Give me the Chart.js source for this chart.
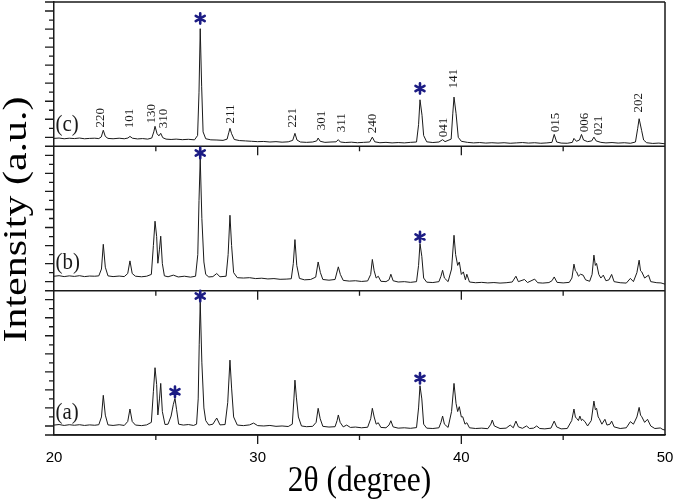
<!DOCTYPE html>
<html>
<head>
<meta charset="utf-8">
<script src="https://cdn.jsdelivr.net/npm/chart.js@4.4.1/dist/chart.umd.min.js"></script>
<style>
  html, body { margin: 0; padding: 0; background: #fff; }
</style>
</head>
<body>
<canvas id="xrd" width="675" height="501"></canvas>
<script>
// --- DATA (2θ in degrees, intensity in arbitrary units) ---
const patternA = [
  [20.0,55],[20.25,58],[20.5,53],[20.75,57],[21.0,54],[21.25,57],[21.5,53],[21.75,56],[22.0,54],[22.2,57],
  [22.33,100],[22.42,220],[22.52,110],[22.65,56],[22.9,53],[23.2,57],[23.45,53],[23.62,75],[23.73,144],[23.84,75],
  [24.0,55],[24.3,52],[24.55,56],[24.78,70],[24.88,240],[24.96,373],[25.04,280],[25.1,111],[25.18,200],[25.24,286],
  [25.32,130],[25.45,58],[25.6,60],[25.75,105],[25.86,170],[25.94,203],[26.02,140],[26.12,60],[26.35,55],[26.6,58],
  [26.85,53],[27.0,60],[27.08,200],[27.13,500],[27.18,738],[27.26,400],[27.36,150],[27.45,80],[27.6,55],[27.8,60],
  [27.99,94],[28.15,56],[28.4,58],[28.53,180],[28.64,415],[28.72,260],[28.82,100],[29.0,55],[29.3,52],[29.6,56],
  [29.8,66],[30.0,52],[30.3,50],[30.6,53],[30.9,48],[31.2,50],[31.5,47],[31.7,60],[31.78,200],[31.83,304],
  [31.9,210],[32.0,100],[32.15,50],[32.4,46],[32.7,48],[32.87,70],[32.97,148],[33.07,90],[33.2,48],[33.5,44],
  [33.8,46],[33.9,80],[33.96,111],[34.05,70],[34.2,45],[34.37,55],[34.55,42],[34.8,44],[35.1,40],[35.4,43],
  [35.55,90],[35.63,148],[35.72,100],[35.82,60],[35.92,68],[36.05,42],[36.3,40],[36.45,55],[36.54,79],[36.65,45],
  [36.9,38],[37.2,40],[37.5,37],[37.8,41],[37.9,150],[37.97,273],[38.06,200],[38.15,60],[38.3,38],[38.6,36],
  [38.9,40],[39.0,70],[39.08,105],[39.17,60],[39.35,42],[39.52,130],[39.64,286],[39.74,175],[39.82,130],[39.9,157],
  [40.0,100],[40.07,101],[40.18,60],[40.27,68],[40.4,40],[40.7,36],[41.0,38],[41.3,35],[41.45,60],[41.52,83],
  [41.62,50],[41.9,36],[42.2,38],[42.4,55],[42.55,40],[42.68,77],[42.8,45],[43.0,37],[43.2,50],[43.35,36],
  [43.55,38],[43.7,50],[43.85,36],[44.1,34],[44.4,38],[44.56,77],[44.68,45],[44.9,34],[45.2,36],[45.42,80],
  [45.53,144],[45.6,100],[45.66,92],[45.75,80],[45.82,105],[45.9,80],[45.95,87],[46.07,74],[46.2,50],[46.38,80],
  [46.51,188],[46.58,140],[46.64,148],[46.72,100],[46.77,92],[46.9,60],[47.05,87],[47.15,55],[47.3,60],[47.38,77],
  [47.5,45],[47.8,36],[48.1,40],[48.3,74],[48.45,60],[48.62,100],[48.73,153],[48.8,110],[48.86,101],[49.0,70],
  [49.14,87],[49.3,50],[49.5,36],[49.77,39],[49.9,30],[50.0,28]
];

const patternB = [
  [20.0,80],[20.25,83],[20.5,78],[20.75,82],[21.0,79],[21.25,83],[21.5,78],[21.75,81],[22.0,80],[22.2,82],
  [22.33,120],[22.42,257],[22.52,130],[22.65,82],[22.9,78],[23.2,81],[23.45,78],[23.62,95],[23.73,165],[23.84,95],
  [24.0,80],[24.3,77],[24.55,80],[24.78,90],[24.88,250],[24.96,385],[25.04,300],[25.1,152],[25.18,230],[25.24,302],
  [25.32,150],[25.42,82],[25.6,77],[25.86,86],[26.1,76],[26.4,80],[26.7,75],[26.95,80],[27.06,200],[27.12,500],
  [27.18,732],[27.26,400],[27.36,159],[27.45,90],[27.6,76],[27.8,78],[27.99,95],[28.15,77],[28.45,80],[28.55,200],
  [28.64,418],[28.72,250],[28.82,100],[29.0,72],[29.3,70],[29.6,72],[29.9,67],[30.2,69],[30.5,65],[30.8,67],
  [31.1,63],[31.4,64],[31.65,66],[31.75,150],[31.83,283],[31.92,140],[32.05,68],[32.3,60],[32.6,62],[32.85,75],
  [32.97,159],[33.08,100],[33.2,62],[33.5,58],[33.8,62],[33.96,132],[34.06,90],[34.2,57],[34.5,53],[34.8,55],
  [35.1,51],[35.4,54],[35.55,90],[35.63,173],[35.72,110],[35.82,70],[35.92,80],[36.05,52],[36.3,50],[36.45,60],
  [36.54,91],[36.65,55],[36.9,48],[37.2,50],[37.5,46],[37.8,50],[37.9,140],[37.97,261],[38.06,190],[38.15,70],
  [38.3,47],[38.6,45],[38.9,50],[39.0,80],[39.08,113],[39.17,70],[39.35,50],[39.52,120],[39.64,307],[39.72,200],
  [39.82,140],[39.9,159],[40.0,90],[40.1,104],[40.2,60],[40.27,91],[40.4,48],[40.7,44],[41.0,46],[41.3,43],
  [41.6,45],[41.9,42],[42.2,44],[42.5,48],[42.68,80],[42.8,50],[43.1,62],[43.25,45],[43.6,64],[43.75,44],
  [44.0,42],[44.3,45],[44.45,55],[44.56,76],[44.7,46],[45.0,43],[45.3,46],[45.43,70],[45.53,147],[45.6,110],
  [45.66,104],[45.75,80],[45.85,91],[45.98,86],[46.1,60],[46.3,52],[46.42,90],[46.51,197],[46.58,140],[46.64,151],
  [46.75,90],[46.85,70],[46.97,86],[47.1,55],[47.25,60],[47.38,90],[47.5,50],[47.8,44],[48.1,42],[48.3,68],
  [48.45,50],[48.62,100],[48.73,169],[48.8,110],[48.86,104],[49.0,70],[49.19,86],[49.3,50],[49.6,44],[49.8,43],
  [50.0,36]
];

const patternC = [
  [20.0,44],[20.25,46],[20.5,42],[20.75,45],[21.0,43],[21.25,46],[21.5,42],[21.75,44],[22.0,45],[22.2,43],
  [22.32,52],[22.42,89],[22.52,55],[22.65,44],[22.9,42],[23.2,45],[23.45,42],[23.63,46],[23.73,55],[23.85,45],
  [24.1,41],[24.35,43],[24.6,40],[24.8,46],[24.9,80],[24.96,111],[25.06,70],[25.15,58],[25.24,72],[25.34,48],
  [25.5,40],[25.75,38],[26.0,40],[26.3,37],[26.6,39],[26.9,36],[27.05,60],[27.12,300],[27.18,652],[27.25,330],
  [27.32,80],[27.45,42],[27.7,36],[28.0,35],[28.3,33],[28.5,40],[28.58,75],[28.64,100],[28.72,70],[28.85,38],
  [29.1,32],[29.4,30],[29.7,28],[30.0,26],[30.3,27],[30.6,24],[30.9,26],[31.2,23],[31.5,25],[31.72,33],
  [31.83,72],[31.93,35],[32.1,24],[32.4,22],[32.7,24],[32.9,30],[32.97,46],[33.07,28],[33.3,22],[33.6,24],
  [33.85,25],[33.96,37],[34.06,24],[34.3,21],[34.6,23],[34.9,20],[35.2,22],[35.5,24],[35.63,51],[35.75,25],
  [36.0,20],[36.3,22],[36.6,19],[36.9,21],[37.2,19],[37.5,22],[37.8,24],[37.9,120],[37.97,258],[38.07,172],
  [38.15,60],[38.3,25],[38.6,21],[38.9,24],[39.08,37],[39.2,26],[39.5,40],[39.58,180],[39.64,273],[39.74,183],
  [39.85,50],[40.0,28],[40.3,22],[40.6,19],[40.9,21],[41.2,18],[41.5,20],[41.8,18],[42.1,20],[42.4,17],
  [42.7,19],[43.0,21],[43.3,18],[43.6,20],[43.9,17],[44.2,19],[44.45,22],[44.56,66],[44.68,24],[44.9,18],
  [45.2,17],[45.45,22],[45.53,44],[45.65,28],[45.8,35],[45.9,66],[46.0,35],[46.2,26],[46.4,30],[46.51,51],
  [46.62,30],[46.85,22],[47.1,19],[47.4,21],[47.7,18],[48.0,20],[48.3,17],[48.55,24],[48.66,100],[48.73,153],
  [48.85,89],[48.95,35],[49.1,20],[49.4,16],[49.7,18],[50.0,14]
];

// Miller indices marked on pattern (c): label, 2θ, intensity where the label starts
const hklText  = ['220','101','130','310','211','221','301','311','240','041','141','015','006','021','202'];
const hklTheta = [22.31,23.70,24.80,25.37,28.67,31.72,33.14,34.12,35.63,39.15,39.64,44.63,46.07,46.72,48.72];
const hklStart = [105,100,127,100,127,105,89,78,72,50,321,78,78,61,188];

// asterisks: [2θ, intensity]
const starsA = [[25.94,240],[27.18,770],[37.97,314]];
const starsB = [[27.18,763],[37.97,298]];
const starsC = [[27.18,709],[37.97,321]];

const panelNames = ['(a)', '(b)', '(c)'];
const xTickLabels = ['20', '30', '40', '50'];

// --- STYLE ---
const ink = '#1a1a1a';
const starBlue = '#1c1c84';
const yMax = 800;
const panelLabelLevel = [89, 119, 83];

const toPoints = arr => arr.map(([x, y]) => ({ x, y }));

const panelAxis = (weight) => ({
    type: 'linear', position: 'left', stack: 'panels', stackWeight: weight,
    min: 0, max: yMax,
    ticks: { display: false },
    grid: { display: false, drawTicks: false },
    border: { display: true, color: ink, width: 1.5 },
    afterFit: s => { s.width = 54; s.paddingTop = 0; s.paddingBottom = 0; }
});

const drawStar = (ctx, cx, cy, r) => {
    ctx.beginPath();
    for (let k = 0; k < 3; k++) {
        const a = Math.PI / 2 + k * Math.PI / 3;
        ctx.moveTo(cx + r * Math.cos(a), cy - r * Math.sin(a));
        ctx.lineTo(cx - r * Math.cos(a), cy + r * Math.sin(a));
    }
    ctx.stroke();
};

const decor = {
    id: 'decor',
    afterDraw(chart) {
        const ctx = chart.ctx;
        const xs = chart.scales.x;
        const area = chart.chartArea;
        const panels = [chart.scales.yA, chart.scales.yB, chart.scales.yC];
        ctx.save();

        // frame and panel separators
        ctx.strokeStyle = ink;
        ctx.lineWidth = 1.5;
        ctx.beginPath();
        ctx.moveTo(area.left, area.top); ctx.lineTo(area.right, area.top);
        ctx.moveTo(area.right, area.top); ctx.lineTo(area.right, area.bottom);
        panels.forEach(s => { ctx.moveTo(area.left - 9, s.bottom); ctx.lineTo(area.right, s.bottom); });
        ctx.moveTo(area.left - 9, area.top); ctx.lineTo(area.left, area.top);
        ctx.stroke();

        // ticks
        ctx.lineWidth = 1.3;
        ctx.beginPath();
        panels.forEach(s => {
            for (let v = 50; v < yMax; v += 50) {
                const py = s.getPixelForValue(v);
                const len = v % 100 === 50 ? 9 : 5;
                ctx.moveTo(area.left - len, py); ctx.lineTo(area.left, py);
            }
            for (let t = 25; t < 50; t += 5) {
                const px = xs.getPixelForValue(t);
                const len = t % 10 === 0 ? 9 : 5;
                ctx.moveTo(px, s.bottom); ctx.lineTo(px, s.bottom + len);
            }
        });
        ctx.stroke();

        // panel names
        ctx.fillStyle = ink;
        ctx.textAlign = 'left';
        ctx.textBaseline = 'alphabetic';
        ctx.font = '24px "Liberation Serif"';
        panels.forEach((s, i) => {
            ctx.save();
            ctx.translate(area.left + 1.5, s.getPixelForValue(panelLabelLevel[i]));
            ctx.scale(0.87, 1);
            ctx.fillText(panelNames[i], 0, 0);
            ctx.restore();
        });

        // Miller indices on (c)
        ctx.font = '13px "Liberation Serif"';
        ctx.textBaseline = 'middle';
        hklText.forEach((t, i) => {
            ctx.save();
            ctx.translate(xs.getPixelForValue(hklTheta[i]), chart.scales.yC.getPixelForValue(hklStart[i]));
            ctx.rotate(-Math.PI / 2);
            ctx.fillText(t, 0, 0);
            ctx.restore();
        });

        // asterisks
        ctx.strokeStyle = starBlue;
        ctx.lineWidth = 2.6;
        ctx.lineCap = 'round';
        [[starsA, chart.scales.yA], [starsB, chart.scales.yB], [starsC, chart.scales.yC]].forEach(([list, s]) => {
            list.forEach(([t, v]) => drawStar(ctx, xs.getPixelForValue(t), s.getPixelForValue(v), 5.2));
        });

        // axis titles
        ctx.fillStyle = '#000';
        ctx.textAlign = 'center';
        ctx.textBaseline = 'middle';
        ctx.save();
        ctx.translate((area.left + area.right) / 2, 482);
        ctx.scale(0.9, 1);
        ctx.font = '35px "Liberation Serif"';
        ctx.fillText('2θ (degree)', 0, 0);
        ctx.restore();

        ctx.save();
        ctx.translate(17, (area.top + area.bottom) / 2 + 1);
        ctx.rotate(-Math.PI / 2);
        ctx.scale(1, 0.78);
        ctx.font = '42px "Liberation Serif"';
        ctx.fillText('Intensity (a.u.)', 0, 0);
        ctx.restore();

        ctx.restore();
    }
};

const lineSet = (points, axis) => ({
    data: toPoints(points), yAxisID: axis,
    borderColor: ink, borderWidth: 1, pointRadius: 0, tension: 0, fill: false
});

new Chart(document.getElementById('xrd'), {
    type: 'line',
    data: { datasets: [lineSet(patternA, 'yA'), lineSet(patternB, 'yB'), lineSet(patternC, 'yC')] },
    options: {
        responsive: false,
        animation: false,
        parsing: false,
        layout: { padding: { left: 0, top: 2, right: 10, bottom: 0 } },
        plugins: { legend: { display: false }, tooltip: { enabled: false } },
        scales: {
            x: {
                type: 'linear', min: 20, max: 50,
                afterBuildTicks: s => { s.ticks = xTickLabels.map(v => ({ value: Number(v) })); },
                ticks: { color: '#000', font: { family: '"Liberation Sans"', size: 15 }, padding: 14, maxRotation: 0,
                         callback: v => String(v) },
                grid: { display: false, drawTicks: false },
                border: { display: true, color: ink, width: 1.5 },
                afterFit: s => { s.height = 66; s.paddingLeft = 0; s.paddingRight = 0; }
            },
            yA: panelAxis(1),
            yB: panelAxis(1),
            yC: panelAxis(1)
        }
    },
    plugins: [decor]
});
</script>
</body>
</html>
